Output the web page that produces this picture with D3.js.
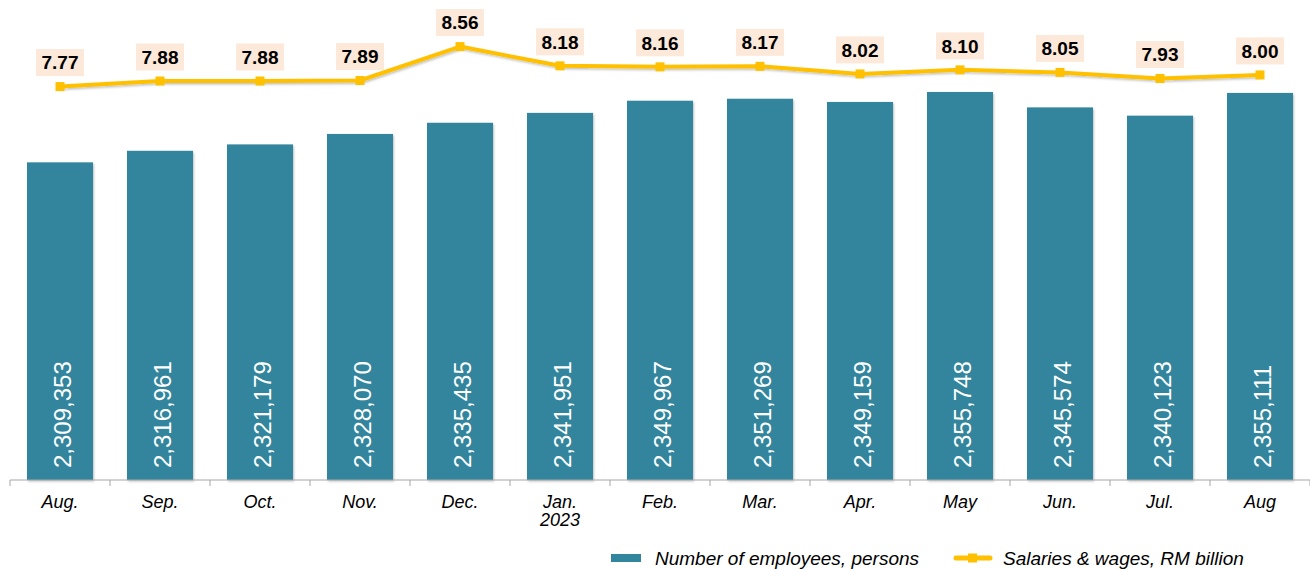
<!DOCTYPE html>
<html>
<head>
  <meta charset="utf-8">
  <script src="https://cdn.jsdelivr.net/npm/d3@7"></script>
  <style type="text/css">
    body {
      margin: 0;
      background: #fff;
      font-family: "Liberation Sans", Arial, sans-serif;
    }
    .axis path, .axis line {
      stroke: #a6a6a6;
    }
    .axis text {
      font-size: 18px;
      font-style: italic;
      fill: #000;
    }
  </style>
</head>
<body>
  <script type="text/javascript">

  const months = ['Aug.', 'Sep.', 'Oct.', 'Nov.', 'Dec.', 'Jan.', 'Feb.', 'Mar.', 'Apr.', 'May', 'Jun.', 'Jul.', 'Aug'];
  const employees = [2309353, 2316961, 2321179, 2328070, 2335435, 2341951, 2349967, 2351269, 2349159, 2355748, 2345574, 2340123, 2355111];
  const salaries = [7.77, 7.88, 7.88, 7.89, 8.56, 8.18, 8.16, 8.17, 8.02, 8.10, 8.05, 7.93, 8.00];
  const seriesNames = ['Number of employees, persons', 'Salaries & wages, RM billion'];

  const width = 1310, height = 569;
  const margin = {left: 10, right: 0, top: 0, bottom: 89};
  const baseY = height - margin.bottom;

  const svg = d3.select('body').append('svg')
    .attr('width', width)
    .attr('height', height);

  // soft shadow like the office chart
  const defs = svg.append('defs');
  const f = defs.append('filter').attr('id', 'shadow')
    .attr('x', '-20%').attr('y', '-20%').attr('width', '140%').attr('height', '140%');
  f.append('feDropShadow').attr('dx', 1).attr('dy', 1.5).attr('stdDeviation', 1.2)
    .attr('flood-color', '#000').attr('flood-opacity', 0.25);

  const x = d3.scaleBand()
    .domain(d3.range(months.length))
    .range([margin.left, width - margin.right])
    .paddingInner(0.34).paddingOuter(0.17);

  const yBar = d3.scaleLinear().domain([2100000, 2360000]).range([baseY, 85.5]);
  const yLine = d3.scaleLinear().domain([0, 9.48]).range([baseY, 0]);

  // bars
  svg.append('g').selectAll('rect')
    .data(employees)
    .join('rect')
    .attr('x', (d, i) => x(i))
    .attr('y', d => yBar(d))
    .attr('width', x.bandwidth())
    .attr('height', d => baseY - yBar(d))
    .attr('fill', '#31859c')
    .attr('filter', 'url(#shadow)');

  // bar values, rotated
  svg.append('g').selectAll('text')
    .data(employees)
    .join('text')
    .attr('transform', (d, i) => `translate(${x(i) + x.bandwidth() / 2 + 11},${baseY - 12}) rotate(-90)`)
    .attr('fill', '#fff')
    .attr('font-size', '24px')
    .text(d => d3.format(',')(d));

  // x axis
  const xAxis = d3.scaleBand().domain(months.map((m, i) => i)).range([margin.left, width - margin.right]);
  const axisG = svg.append('g')
    .attr('class', 'axis')
    .attr('transform', `translate(0,${baseY})`)
    .call(d3.axisBottom(xAxis).tickSize(0).tickFormat(i => months[i]));
  axisG.select('.domain').attr('d', `M${margin.left},0H${width}`);
  axisG.selectAll('.tick text').attr('y', 28).attr('dy', 0);
  axisG.selectAll('.sep')
    .data(d3.range(months.length + 1))
    .join('line')
    .attr('class', 'sep')
    .attr('x1', i => margin.left + i * xAxis.step())
    .attr('x2', i => margin.left + i * xAxis.step())
    .attr('y1', 0).attr('y2', 6);
  axisG.append('text')
    .attr('x', xAxis(5) + xAxis.bandwidth() / 2)
    .attr('y', 46)
    .attr('text-anchor', 'middle')
    .text('2023');

  // salaries line
  const line = d3.line()
    .x((d, i) => x(i) + x.bandwidth() / 2)
    .y(d => yLine(d));

  svg.append('path')
    .datum(salaries)
    .attr('d', line)
    .attr('fill', 'none')
    .attr('stroke', '#ffc000')
    .attr('stroke-width', 4)
    .attr('stroke-linejoin', 'round')
    .attr('filter', 'url(#shadow)');

  svg.append('g').selectAll('rect')
    .data(salaries)
    .join('rect')
    .attr('x', (d, i) => x(i) + x.bandwidth() / 2 - 4.5)
    .attr('y', d => yLine(d) - 4.5)
    .attr('width', 9).attr('height', 9)
    .attr('fill', '#ffc000');

  // salary labels
  const lab = svg.append('g').selectAll('g')
    .data(salaries)
    .join('g')
    .attr('transform', (d, i) => `translate(${x(i) + x.bandwidth() / 2},${yLine(d) - 24})`);
  lab.append('rect')
    .attr('x', -24).attr('y', -13.5)
    .attr('width', 48).attr('height', 27)
    .attr('fill', '#fde9d9');
  lab.append('text')
    .attr('text-anchor', 'middle')
    .attr('dy', '0.36em')
    .attr('font-size', '19px')
    .attr('font-weight', 'bold')
    .text(d => d.toFixed(2));

  // legend
  const leg = svg.append('g').attr('transform', `translate(0,558)`);
  leg.append('rect').attr('x', 611).attr('y', -4).attr('width', 30).attr('height', 8).attr('fill', '#31859c');
  leg.append('text').attr('x', 655).attr('dy', '0.35em').attr('font-size', '19px').attr('font-style', 'italic').text(seriesNames[0]);
  leg.append('line').attr('x1', 956).attr('x2', 990).attr('stroke', '#ffc000').attr('stroke-width', 5).attr('stroke-linecap', 'round');
  leg.append('rect').attr('x', 968).attr('y', -4.5).attr('width', 9).attr('height', 9).attr('fill', '#ffc000');
  leg.append('text').attr('x', 1003).attr('dy', '0.35em').attr('font-size', '19px').attr('font-style', 'italic').text(seriesNames[1]);

  </script>
</body>
</html>
